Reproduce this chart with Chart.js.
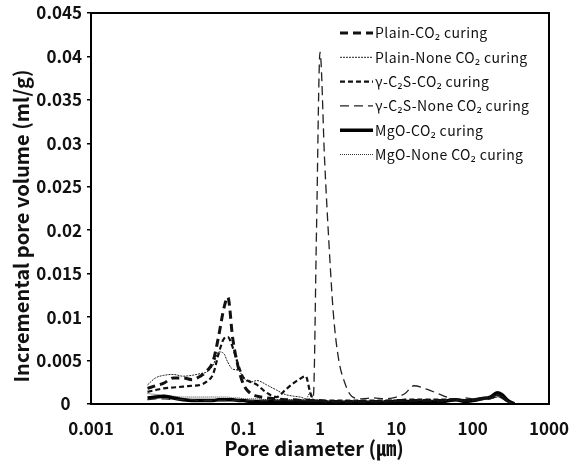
<!DOCTYPE html>
<html>
<head>
<meta charset="utf-8">
<script src="https://cdn.jsdelivr.net/npm/chart.js@4"></script>
<style>
  html, body { margin: 0; padding: 0; background: #fff; }
  #wrap { width: 570px; height: 463px; }
</style>
</head>
<body>
<div id="wrap"><canvas id="poreChart" width="570" height="463"></canvas></div>
<script>
// pore diameters (um), shared by all samples
const diameters = [0.0055, 0.007, 0.009, 0.012, 0.016, 0.021, 0.027, 0.033, 0.04, 0.047,
  0.055, 0.062, 0.072, 0.085, 0.1, 0.12, 0.15, 0.2, 0.27, 0.35,
  0.45, 0.55, 0.65, 0.75, 0.82, 0.9, 1.0, 1.15, 1.3, 1.5,
  1.75, 2.1, 2.6, 3.5, 5, 7, 10, 13, 17, 25,
  40, 60, 80, 100, 130, 170, 210, 240, 290, 350];

// incremental pore volume (ml/g)
const plainCo2 = [0.0018, 0.0021, 0.0024, 0.003, 0.003, 0.0028, 0.0032, 0.0038, 0.005, 0.0078,
  0.011, 0.0123, 0.0075, 0.0042, 0.0022, 0.0013, 0.0009, 0.0007, 0.0006, 0.0005,
  0.0005, 0.0004, 0.0004, 0.0004, 0.0004, 0.0004, 0.0004, 0.0003, 0.0003, 0.0003,
  0.0003, 0.0003, 0.0003, 0.0003, 0.0003, 0.0003, 0.0004, 0.0004, 0.0004, 0.0004,
  0.0004, 0.0005, 0.0004, 0.0005, 0.0006, 0.0007, 0.0009, 0.0008, 0.0003, 0];
const plainNone = [0.0022, 0.003, 0.0033, 0.0034, 0.0032, 0.0033, 0.0035, 0.0037, 0.0045, 0.006,
  0.0058, 0.0048, 0.004, 0.0039, 0.003, 0.0025, 0.0027, 0.0022, 0.0016, 0.0011,
  0.0009, 0.0008, 0.0006, 0.0005, 0.0004, 0.0003, 0.0003, 0.0003, 0.0003, 0.0003,
  0.0003, 0.0003, 0.0003, 0.0003, 0.0003, 0.0003, 0.0003, 0.0003, 0.0004, 0.0004,
  0.0004, 0.0004, 0.0004, 0.0004, 0.0005, 0.0006, 0.0008, 0.0007, 0.0002, 0];
const c2sCo2 = [0.0014, 0.0016, 0.0018, 0.0019, 0.002, 0.0021, 0.0022, 0.0026, 0.0035, 0.0058,
  0.0075, 0.0077, 0.0065, 0.0045, 0.003, 0.0026, 0.0022, 0.0013, 0.0008, 0.0016,
  0.0024, 0.0029, 0.0032, 0.0012, 0.0005, 0.0004, 0.0004, 0.0004, 0.0004, 0.0004,
  0.0004, 0.0004, 0.0004, 0.0004, 0.0004, 0.0004, 0.0004, 0.0005, 0.0005, 0.0005,
  0.0005, 0.0005, 0.0004, 0.0005, 0.0006, 0.0008, 0.001, 0.0009, 0.0003, 0];
const c2sNone = [0.0005, 0.0006, 0.0006, 0.0005, 0.0005, 0.0005, 0.0004, 0.0004, 0.0004, 0.0004,
  0.0004, 0.0004, 0.0004, 0.0004, 0.0004, 0.0004, 0.0004, 0.0004, 0.0004, 0.0004,
  0.0004, 0.0004, 0.0004, 0.0006, 0.001, 0.02, 0.0405, 0.028, 0.019, 0.0103,
  0.0052, 0.0025, 0.0009, 0.0006, 0.0007, 0.0006, 0.0008, 0.0012, 0.0021, 0.0017,
  0.001, 0.0005, 0.0007, 0.0006, 0.0007, 0.0008, 0.001, 0.0009, 0.0003, 0];
const mgoCo2 = [0.0007, 0.0008, 0.0009, 0.0007, 0.0005, 0.0004, 0.0004, 0.0004, 0.0004, 0.0005,
  0.0005, 0.0005, 0.0005, 0.0004, 0.0004, 0.0003, 0.0003, 0.0003, 0.0003, 0.0003,
  0.0003, 0.0003, 0.0003, 0.0003, 0.0003, 0.0003, 0.0003, 0.0003, 0.0002, 0.0002,
  0.0002, 0.0002, 0.0002, 0.0002, 0.0002, 0.0002, 0.0003, 0.0003, 0.0003, 0.0003,
  0.0003, 0.0005, 0.0003, 0.0004, 0.0006, 0.0008, 0.0013, 0.0011, 0.0004, 0];
const mgoNone = [0.0012, 0.0011, 0.001, 0.0009, 0.0008, 0.0008, 0.0008, 0.0008, 0.0008, 0.0008,
  0.0008, 0.0008, 0.0007, 0.0007, 0.0006, 0.0006, 0.0006, 0.0005, 0.0005, 0.0005,
  0.0005, 0.0005, 0.0005, 0.0014, 0.0005, 0.0003, 0.0003, 0.0003, 0.0003, 0.0003,
  0.0003, 0.0003, 0.0003, 0.0003, 0.0003, 0.0003, 0.0003, 0.0003, 0.0003, 0.0003,
  0.0003, 0.0006, 0.0004, 0.0005, 0.0006, 0.0008, 0.0011, 0.001, 0.0003, 0];

const seriesNames = ['Plain-CO₂ curing', 'Plain-None CO₂ curing', 'γ-C₂S-CO₂ curing',
  'γ-C₂S-None CO₂ curing', 'MgO-CO₂ curing', 'MgO-None CO₂ curing'];
const xTicks = [0.001, 0.01, 0.1, 1, 10, 100, 1000];
const yTicks = [0, 0.005, 0.01, 0.015, 0.02, 0.025, 0.03, 0.035, 0.04, 0.045];

const FONT = "'Noto Sans CJK KR', 'Noto Sans', sans-serif";

function makeSet(label, values, width, dash, color) {
  return {
    label: label,
    data: diameters.map((d, i) => ({ x: d, y: values[i] })),
    borderColor: color,
    borderWidth: width,
    borderDash: dash,
    pointRadius: 0,
    tension: 0.3,
    cubicInterpolationMode: 'monotone',
    fill: false
  };
}

// legend, axis titles and frame drawn straight on the canvas
const decorPlugin = {
  id: 'decor',
  afterDraw(chart) {
    const ctx = chart.ctx;
    const a = chart.chartArea;
    ctx.save();
    ctx.strokeStyle = '#000';
    ctx.lineWidth = 2;
    ctx.setLineDash([]);
    ctx.strokeRect(a.left, a.top, a.right - a.left, a.bottom - a.top);

    // legend
    ctx.font = '14px ' + FONT;
    ctx.letterSpacing = '0.4px';
    ctx.textBaseline = 'middle';
    ctx.textAlign = 'left';
    chart.data.datasets.forEach((ds, i) => {
      const y = 33 + i * 24.3;
      ctx.strokeStyle = ds.borderColor;
      ctx.lineWidth = ds.borderWidth;
      ctx.setLineDash(ds.borderDash || []);
      ctx.beginPath();
      ctx.moveTo(340, y);
      ctx.lineTo(373, y);
      ctx.stroke();
      ctx.fillStyle = '#111';
      ctx.fillText(ds.label, 375, y);
    });
    ctx.setLineDash([]);
    ctx.letterSpacing = '0px';

    // axis titles
    ctx.fillStyle = '#111';
    ctx.font = 'bold 20px ' + FONT;
    ctx.textAlign = 'center';
    ctx.fillText('Pore diameter (㎛)', 314, 448);
    ctx.translate(21, 226);
    ctx.rotate(-Math.PI / 2);
    ctx.fillText('Incremental pore volume (ml/g)', 0, 0);
    ctx.restore();
  }
};

const ctx = document.getElementById('poreChart').getContext('2d');
new Chart(ctx, {
  type: 'line',
  data: {
    datasets: [
      makeSet(seriesNames[0], plainCo2, 3, [8, 5], '#111'),
      makeSet(seriesNames[1], plainNone, 1, [2, 1], '#222'),
      makeSet(seriesNames[2], c2sCo2, 2.2, [5, 3], '#111'),
      makeSet(seriesNames[3], c2sNone, 1.3, [9, 5], '#222'),
      makeSet(seriesNames[4], mgoCo2, 3.5, [], '#000'),
      makeSet(seriesNames[5], mgoNone, 1, [1, 1], '#333')
    ]
  },
  options: {
    responsive: false,
    animation: false,
    layout: { padding: { top: 13, right: 21, left: 0, bottom: 0 } },
    plugins: {
      legend: { display: false },
      tooltip: { enabled: false }
    },
    scales: {
      x: {
        type: 'logarithmic',
        min: 0.001,
        max: 1000,
        afterBuildTicks(scale) {
          scale.ticks = xTicks.map(v => ({ value: v }));
        },
        afterFit(scale) {
          scale.height = 59;
          scale.paddingLeft = 0;
          scale.paddingRight = 0;
        },
        grid: { display: false, drawTicks: false },
        border: { display: false },
        ticks: {
          padding: 14,
          color: '#111',
          font: { family: FONT, size: 17, weight: 'bold' },
          callback: v => String(v)
        }
      },
      y: {
        type: 'linear',
        min: 0,
        max: 0.045,
        afterBuildTicks(scale) {
          scale.ticks = yTicks.map(v => ({ value: v }));
        },
        afterFit(scale) {
          scale.width = 91;
          scale.paddingTop = 0;
          scale.paddingBottom = 0;
        },
        grid: { display: true, drawOnChartArea: false, drawTicks: true, tickLength: 4, color: '#000', lineWidth: 1.5 },
        border: { display: false },
        ticks: {
          padding: 5,
          color: '#111',
          font: { family: FONT, size: 17, weight: 'bold' },
          callback: v => v === 0 ? '0   ' : String(parseFloat(v.toFixed(3)))
        }
      }
    }
  },
  plugins: [decorPlugin]
});
</script>
</body>
</html>
